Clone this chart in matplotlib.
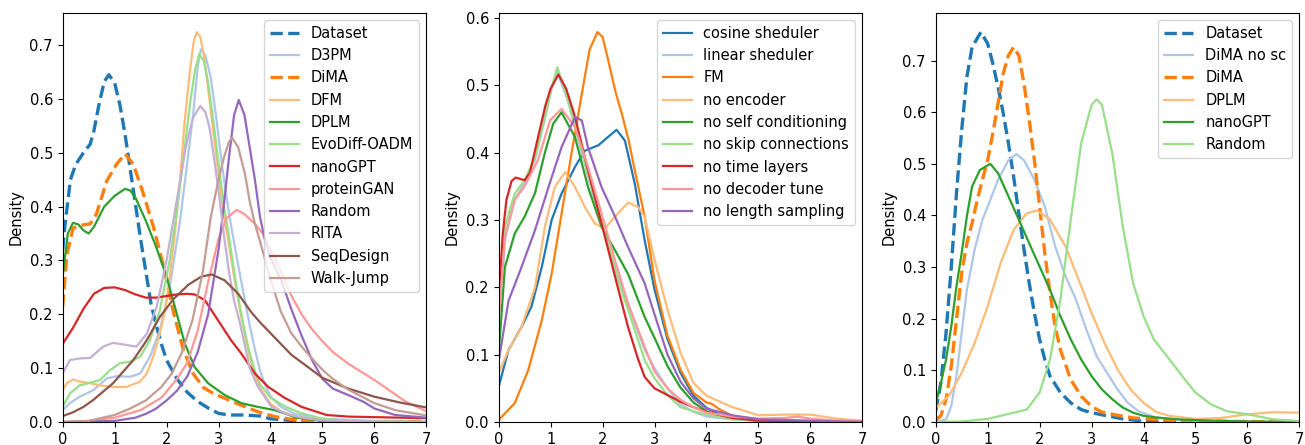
import numpy as np
import matplotlib
matplotlib.use("Agg")
import matplotlib.pyplot as plt

# =============================================================================
# Data (density curves)
# =============================================================================

# ---- panel 1: all models ----
p1_dataset_x = [0, 0.05, 0.15, 0.25, 0.4, 0.53, 0.6, 0.7, 0.8, 0.89, 1.0, 1.1, 1.2, 1.3, 1.4, 1.5, 1.6, 1.7, 1.8,
                1.9, 2.0, 2.2, 2.4, 2.6, 2.8, 3.0, 3.2, 3.5, 3.8, 4.0, 4.5, 5.0, 6.0, 7.0]
p1_dataset_y = [0.32, 0.37, 0.45, 0.478, 0.50, 0.516, 0.54, 0.59, 0.632, 0.645, 0.63, 0.59, 0.535, 0.47, 0.405,
                0.34, 0.28, 0.22, 0.18, 0.145, 0.115, 0.08, 0.055, 0.038, 0.026, 0.016, 0.013, 0.013, 0.011,
                0.006, 0.002, 0.001, 0.0, 0.0]

p1_d3pm_x = [0, 0.14, 0.33, 0.59, 0.85, 1.04, 1.3, 1.49, 1.68, 1.87, 2.06, 2.26, 2.38, 2.51, 2.6, 2.66, 2.75,
             2.85, 2.95, 3.05, 3.15, 3.25, 3.4, 3.5, 3.6, 3.7, 3.8, 3.9, 4.0, 4.2, 4.5, 5.0, 6.0, 7.0]
p1_d3pm_y = [0.022, 0.035, 0.047, 0.059, 0.081, 0.085, 0.084, 0.09, 0.121, 0.17, 0.25, 0.374, 0.467, 0.57, 0.66,
             0.692, 0.68, 0.64, 0.57, 0.49, 0.42, 0.36, 0.28, 0.23, 0.18, 0.135, 0.095, 0.068, 0.048, 0.028,
             0.014, 0.006, 0.002, 0.0]

p1_dima_x = [0, 0.08, 0.2, 0.33, 0.53, 0.65, 0.85, 1.04, 1.2, 1.36, 1.55, 1.74, 1.94, 2.13, 2.32, 2.51, 2.71,
             2.9, 3.12, 3.44, 3.76, 4.08, 4.4, 4.7, 5.0, 7.0]
p1_dima_y = [0.214, 0.31, 0.36, 0.365, 0.368, 0.386, 0.448, 0.479, 0.498, 0.479, 0.425, 0.365, 0.29, 0.205,
             0.135, 0.09, 0.064, 0.053, 0.044, 0.031, 0.019, 0.01, 0.005, 0.002, 0.001, 0.0]

p1_dfm_x = [0, 0.08, 0.2, 0.33, 0.53, 0.72, 0.97, 1.23, 1.49, 1.62, 1.74, 1.87, 1.97, 2.06, 2.16, 2.26, 2.35,
            2.45, 2.52, 2.58, 2.65, 2.72, 2.8, 2.9, 3.0, 3.1, 3.2, 3.3, 3.4, 3.5, 3.6, 3.7, 3.8, 4.0, 4.2, 4.5,
            5.0, 6.0, 7.0]
p1_dfm_y = [0.059, 0.072, 0.079, 0.075, 0.072, 0.068, 0.065, 0.065, 0.075, 0.09, 0.12, 0.164, 0.207, 0.27, 0.35,
            0.45, 0.56, 0.652, 0.705, 0.724, 0.715, 0.68, 0.62, 0.54, 0.46, 0.385, 0.33, 0.27, 0.215, 0.165,
            0.12, 0.088, 0.063, 0.034, 0.02, 0.01, 0.003, 0.001, 0.0]

p1_dplm_x = [0, 0.1, 0.2, 0.3, 0.4, 0.5, 0.6, 0.8, 1.0, 1.2, 1.3, 1.4, 1.6, 1.8, 2.0, 2.16, 2.35, 2.54, 2.8,
             3.12, 3.44, 3.76, 4.08, 4.27, 4.5, 5.0, 5.5, 7.0]
p1_dplm_y = [0.27, 0.35, 0.37, 0.367, 0.356, 0.35, 0.362, 0.40, 0.42, 0.433, 0.43, 0.417, 0.374, 0.325, 0.27,
             0.214, 0.146, 0.102, 0.072, 0.05, 0.035, 0.028, 0.022, 0.016, 0.008, 0.002, 0.0005, 0.0]

p1_evodiff_x = [0, 0.14, 0.33, 0.53, 0.72, 0.91, 1.1, 1.3, 1.49, 1.68, 1.87, 2.06, 2.19, 2.32, 2.45, 2.55, 2.63,
                2.72, 2.8, 2.9, 3.0, 3.1, 3.2, 3.3, 3.4, 3.5, 3.6, 3.7, 3.8, 4.0, 4.3, 4.6, 5.0, 5.5, 6.0, 7.0]
p1_evodiff_y = [0.028, 0.053, 0.068, 0.073, 0.078, 0.096, 0.109, 0.112, 0.121, 0.152, 0.207, 0.3, 0.386, 0.485,
                0.59, 0.655, 0.683, 0.67, 0.63, 0.56, 0.48, 0.405, 0.345, 0.28, 0.22, 0.17, 0.128, 0.095, 0.07,
                0.045, 0.028, 0.016, 0.006, 0.002, 0.001, 0.0]

p1_nanogpt_x = [0, 0.2, 0.4, 0.6, 0.8, 1.0, 1.2, 1.4, 1.6, 1.8, 2.0, 2.2, 2.4, 2.54, 2.74, 2.99, 3.24, 3.44,
                3.7, 3.96, 4.27, 4.6, 5.08, 5.5, 6.0, 7.0]
p1_nanogpt_y = [0.145, 0.175, 0.21, 0.238, 0.249, 0.25, 0.245, 0.237, 0.231, 0.231, 0.234, 0.237, 0.238, 0.237,
                0.226, 0.189, 0.152, 0.127, 0.09, 0.065, 0.045, 0.028, 0.013, 0.01, 0.009, 0.007]

p1_proteingan_x = [0, 0.5, 1.0, 1.5, 1.9, 2.2, 2.4, 2.6, 2.8, 3.0, 3.15, 3.35, 3.5, 3.7, 3.85, 4.0, 4.2, 4.4,
                   4.6, 4.8, 5.0, 5.2, 5.5, 5.8, 6.0, 6.3, 6.6, 7.0]
p1_proteingan_y = [0.0, 0.002, 0.008, 0.022, 0.045, 0.08, 0.11, 0.17, 0.26, 0.34, 0.378, 0.394, 0.386, 0.368,
                   0.35, 0.32, 0.28, 0.235, 0.2, 0.172, 0.15, 0.13, 0.108, 0.09, 0.078, 0.058, 0.038, 0.02]

p1_random_x = [0, 1.0, 1.4, 1.6, 1.8, 2.0, 2.2, 2.4, 2.6, 2.8, 3.0, 3.1, 3.2, 3.3, 3.39, 3.5, 3.6, 3.7, 3.8,
               3.9, 4.0, 4.2, 4.4, 4.6, 4.8, 5.0, 5.2, 5.5, 5.8, 6.0, 6.4, 7.0]
p1_random_y = [0.0, 0.002, 0.008, 0.015, 0.025, 0.04, 0.058, 0.085, 0.13, 0.2, 0.32, 0.40, 0.49, 0.57, 0.598,
               0.57, 0.51, 0.45, 0.38, 0.335, 0.305, 0.265, 0.21, 0.16, 0.115, 0.08, 0.062, 0.05, 0.037, 0.025,
               0.013, 0.008]

p1_rita_x = [0, 0.14, 0.33, 0.53, 0.78, 0.97, 1.23, 1.42, 1.62, 1.81, 2.0, 2.13, 2.26, 2.38, 2.51, 2.65, 2.75,
             2.83, 2.9, 3.0, 3.1, 3.2, 3.3, 3.41, 3.5, 3.6, 3.76, 4.02, 4.3, 4.6, 5.0, 6.0, 7.0]
p1_rita_y = [0.09, 0.115, 0.118, 0.119, 0.14, 0.147, 0.143, 0.14, 0.164, 0.214, 0.3, 0.374, 0.448, 0.516, 0.565,
             0.587, 0.575, 0.545, 0.5, 0.43, 0.35, 0.28, 0.225, 0.185, 0.145, 0.1, 0.065, 0.028, 0.015, 0.008,
             0.003, 0.001, 0.0]

p1_seqdesign_x = [0, 0.2, 0.4, 0.59, 0.97, 1.36, 1.62, 1.87, 2.13, 2.42, 2.67, 2.87, 3.12, 3.38, 3.63, 3.8, 4.0,
                  4.4, 5.0, 5.5, 6.0, 6.5, 7.0]
p1_seqdesign_y = [0.011, 0.018, 0.028, 0.041, 0.072, 0.115, 0.152, 0.195, 0.228, 0.255, 0.27, 0.274, 0.263,
                  0.238, 0.204, 0.185, 0.165, 0.125, 0.082, 0.062, 0.047, 0.036, 0.027]

p1_walkjump_x = [0, 0.5, 1.0, 1.3, 1.6, 1.9, 2.1, 2.3, 2.5, 2.7, 2.85, 3.0, 3.1, 3.2, 3.26, 3.38, 3.51, 3.6, 3.7,
                 3.8, 3.9, 4.0, 4.2, 4.4, 4.6, 4.8, 5.0, 5.2, 5.5, 5.8, 6.0, 6.4, 7.0]
p1_walkjump_y = [0.0, 0.002, 0.013, 0.025, 0.04, 0.065, 0.09, 0.13, 0.19, 0.28, 0.38, 0.45, 0.49, 0.52, 0.528,
                 0.51, 0.46, 0.41, 0.368, 0.335, 0.3, 0.265, 0.205, 0.165, 0.14, 0.118, 0.097, 0.08, 0.06, 0.045,
                 0.035, 0.022, 0.012]

# ---- panel 2: ablations ----
p2_cosine_x = [0, 0.19, 0.44, 0.63, 0.83, 1.02, 1.21, 1.47, 1.66, 1.92, 2.1, 2.27, 2.43, 2.62, 2.81, 3.0, 3.25,
               3.5, 3.75, 4.0, 4.25, 4.5, 5.0, 6.0, 7.0]
p2_cosine_y = [0.052, 0.107, 0.141, 0.171, 0.23, 0.3, 0.339, 0.379, 0.403, 0.411, 0.423, 0.434, 0.418, 0.354,
               0.27, 0.197, 0.123, 0.073, 0.039, 0.021, 0.011, 0.006, 0.002, 0.0, 0.0]

p2_linear_x = [0, 0.12, 0.31, 0.5, 0.7, 0.89, 1.02, 1.13, 1.34, 1.53, 1.79, 2.04, 2.3, 2.56, 2.81, 3.0, 3.25,
               3.5, 3.75, 4.0, 4.5, 5.0, 6.0, 7.0]
p2_linear_y = [0.12, 0.27, 0.33, 0.355, 0.39, 0.45, 0.495, 0.52, 0.475, 0.42, 0.345, 0.28, 0.215, 0.16, 0.107,
               0.08, 0.05, 0.026, 0.015, 0.008, 0.004, 0.002, 0.0, 0.0]

p2_fm_x = [0, 0.31, 0.57, 0.83, 1.02, 1.21, 1.4, 1.6, 1.75, 1.9, 2.0, 2.11, 2.25, 2.37, 2.5, 2.62, 2.81, 3.0,
           3.25, 3.5, 3.75, 4.0, 4.1, 4.25, 4.5, 5.0, 7.0]
p2_fm_y = [0.003, 0.028, 0.077, 0.151, 0.22, 0.309, 0.398, 0.487, 0.553, 0.579, 0.572, 0.537, 0.49, 0.458,
           0.419, 0.374, 0.305, 0.21, 0.128, 0.078, 0.043, 0.029, 0.027, 0.019, 0.009, 0.001, 0.0]

p2_noenc_x = [0, 0.19, 0.44, 0.7, 0.89, 1.08, 1.28, 1.47, 1.66, 1.85, 2.04, 2.24, 2.49, 2.69, 2.81, 3.0, 3.25,
              3.5, 3.75, 4.0, 4.5, 5.0, 5.5, 6.0, 6.5, 7.0]
p2_noenc_y = [0.072, 0.107, 0.141, 0.2, 0.29, 0.349, 0.371, 0.349, 0.319, 0.295, 0.287, 0.305, 0.326, 0.319,
              0.305, 0.241, 0.167, 0.103, 0.058, 0.039, 0.022, 0.01, 0.011, 0.011, 0.005, 0.002]

p2_nosc_x = [0, 0.12, 0.31, 0.5, 0.7, 0.89, 1.05, 1.21, 1.47, 1.72, 1.98, 2.24, 2.49, 2.81, 3.0, 3.25, 3.5,
             3.75, 4.0, 4.3, 5.0, 7.0]
p2_nosc_y = [0.1, 0.23, 0.28, 0.305, 0.34, 0.4, 0.443, 0.46, 0.423, 0.349, 0.29, 0.255, 0.22, 0.156, 0.125,
             0.083, 0.051, 0.029, 0.016, 0.008, 0.002, 0.0]

p2_noskip_x = [0, 0.12, 0.31, 0.5, 0.7, 0.89, 1.02, 1.13, 1.34, 1.53, 1.79, 2.04, 2.3, 2.56, 2.81, 3.0, 3.25,
               3.5, 3.75, 4.0, 4.5, 5.0, 7.0]
p2_noskip_y = [0.14, 0.29, 0.339, 0.359, 0.393, 0.453, 0.497, 0.527, 0.477, 0.423, 0.349, 0.28, 0.21, 0.151,
               0.092, 0.065, 0.04, 0.022, 0.016, 0.011, 0.004, 0.002, 0.0]

p2_notime_x = [0, 0.08, 0.15, 0.25, 0.33, 0.5, 0.6, 0.75, 0.9, 1.0, 1.15, 1.3, 1.47, 1.72, 1.98, 2.24, 2.49,
               2.69, 2.81, 3.0, 3.25, 3.5, 3.75, 4.0, 4.5, 5.0, 7.0]
p2_notime_y = [0.18, 0.28, 0.33, 0.358, 0.363, 0.359, 0.37, 0.42, 0.47, 0.495, 0.516, 0.495, 0.453, 0.374, 0.295,
               0.216, 0.141, 0.092, 0.067, 0.05, 0.04, 0.03, 0.022, 0.015, 0.006, 0.002, 0.0]

p2_nodec_x = [0, 0.12, 0.31, 0.5, 0.76, 0.99, 1.21, 1.47, 1.72, 1.98, 2.24, 2.49, 2.81, 3.0, 3.25, 3.5, 3.75,
              4.0, 4.5, 5.0, 5.5, 5.75, 6.0, 6.5, 7.0]
p2_nodec_y = [0.15, 0.275, 0.33, 0.35, 0.39, 0.448, 0.465, 0.438, 0.379, 0.31, 0.24, 0.176, 0.112, 0.075, 0.05,
              0.033, 0.022, 0.014, 0.008, 0.005, 0.006, 0.008, 0.005, 0.002, 0.001]

p2_nolen_x = [0, 0.19, 0.44, 0.7, 0.96, 1.21, 1.47, 1.6, 1.72, 1.98, 2.24, 2.49, 2.81, 3.0, 3.25, 3.5, 3.75,
              4.0, 4.5, 5.0, 7.0]
p2_nolen_y = [0.09, 0.18, 0.23, 0.285, 0.349, 0.408, 0.453, 0.448, 0.408, 0.349, 0.305, 0.26, 0.206, 0.16, 0.1,
              0.06, 0.035, 0.02, 0.01, 0.004, 0.0]

# ---- panel 3: best models ----
p3_dataset_x = [0, 0.1, 0.2, 0.3, 0.4, 0.5, 0.6, 0.7, 0.87, 1.0, 1.1, 1.2, 1.3, 1.4, 1.5, 1.6, 1.7, 1.8, 1.9,
                2.0, 2.1, 2.2, 2.4, 2.6, 2.8, 3.0, 3.3, 3.6, 4.0, 4.5, 7.0]
p3_dataset_y = [0.021, 0.076, 0.173, 0.3, 0.443, 0.565, 0.668, 0.726, 0.755, 0.733, 0.694, 0.649, 0.598, 0.54,
                0.475, 0.404, 0.334, 0.269, 0.211, 0.16, 0.121, 0.089, 0.057, 0.037, 0.024, 0.018, 0.012, 0.006,
                0.002, 0.0, 0.0]

p3_dimanosc_x = [0, 0.2, 0.3, 0.4, 0.5, 0.6, 0.75, 0.9, 1.0, 1.2, 1.4, 1.55, 1.7, 1.9, 2.1, 2.3, 2.5, 2.7, 2.9,
                 3.1, 3.3, 3.5, 3.7, 3.9, 4.2, 4.6, 5.0, 7.0]
p3_dimanosc_y = [0.0, 0.005, 0.031, 0.089, 0.173, 0.256, 0.334, 0.392, 0.417, 0.469, 0.507, 0.519, 0.507, 0.469,
                 0.417, 0.34, 0.282, 0.237, 0.179, 0.127, 0.095, 0.063, 0.037, 0.021, 0.01, 0.005, 0.002, 0.0]

p3_dima_x = [0, 0.1, 0.2, 0.3, 0.4, 0.5, 0.6, 0.7, 0.8, 0.9, 1.0, 1.1, 1.2, 1.3, 1.4, 1.5, 1.6, 1.7, 1.8, 1.9,
             2.0, 2.1, 2.2, 2.3, 2.4, 2.6, 2.8, 3.0, 3.2, 3.5, 3.8, 4.2, 4.8, 7.0]
p3_dima_y = [0.004, 0.012, 0.044, 0.108, 0.198, 0.288, 0.346, 0.385, 0.43, 0.469, 0.507, 0.559, 0.617, 0.675,
             0.71, 0.726, 0.71, 0.655, 0.585, 0.507, 0.417, 0.327, 0.25, 0.185, 0.14, 0.082, 0.05, 0.03, 0.019,
             0.013, 0.008, 0.005, 0.002, 0.0]

p3_dplm_x = [0, 0.25, 0.5, 0.75, 1.0, 1.25, 1.5, 1.75, 1.95, 2.2, 2.5, 2.75, 3.0, 3.25, 3.5, 3.75, 4.0, 4.25,
             4.5, 5.0, 5.5, 6.0, 6.5, 7.0]
p3_dplm_y = [0.028, 0.05, 0.095, 0.153, 0.224, 0.308, 0.372, 0.404, 0.41, 0.392, 0.34, 0.276, 0.211, 0.153,
             0.102, 0.063, 0.037, 0.019, 0.012, 0.006, 0.008, 0.015, 0.019, 0.018]

p3_nanogpt_x = [0, 0.1, 0.2, 0.3, 0.4, 0.5, 0.6, 0.7, 0.85, 1.05, 1.2, 1.4, 1.6, 1.8, 2.0, 2.2, 2.4, 2.6, 2.8,
                3.0, 3.2, 3.4, 3.6, 3.8, 4.0, 4.3, 4.7, 5.2, 6.0, 7.0]
p3_nanogpt_y = [0.034, 0.076, 0.121, 0.185, 0.263, 0.327, 0.398, 0.456, 0.488, 0.5, 0.482, 0.437, 0.392, 0.346,
                0.301, 0.256, 0.205, 0.16, 0.121, 0.089, 0.063, 0.044, 0.028, 0.018, 0.012, 0.008, 0.005, 0.003,
                0.001, 0.0]

p3_random_x = [0, 0.5, 1.0, 1.25, 1.5, 1.75, 2.0, 2.2, 2.4, 2.6, 2.8, 3.0, 3.1, 3.2, 3.4, 3.6, 3.8, 4.0, 4.2,
               4.5, 4.8, 5.0, 5.3, 5.6, 6.0, 6.5, 7.0]
p3_random_y = [0.0, 0.001, 0.006, 0.012, 0.018, 0.024, 0.057, 0.121, 0.237, 0.392, 0.54, 0.614, 0.625, 0.614,
               0.52, 0.379, 0.269, 0.205, 0.16, 0.121, 0.082, 0.057, 0.034, 0.021, 0.015, 0.005, 0.002]

# =============================================================================
# Plot
# =============================================================================
plt.rcParams['font.size'] = 10.5

c = plt.get_cmap('tab20').colors

panel1 = [
    ("Dataset", p1_dataset_x, p1_dataset_y, c[0], True),
    ("D3PM", p1_d3pm_x, p1_d3pm_y, c[1], False),
    ("DiMA", p1_dima_x, p1_dima_y, c[2], True),
    ("DFM", p1_dfm_x, p1_dfm_y, c[3], False),
    ("DPLM", p1_dplm_x, p1_dplm_y, c[4], False),
    ("EvoDiff-OADM", p1_evodiff_x, p1_evodiff_y, c[5], False),
    ("nanoGPT", p1_nanogpt_x, p1_nanogpt_y, c[6], False),
    ("proteinGAN", p1_proteingan_x, p1_proteingan_y, c[7], False),
    ("Random", p1_random_x, p1_random_y, c[8], False),
    ("RITA", p1_rita_x, p1_rita_y, c[9], False),
    ("SeqDesign", p1_seqdesign_x, p1_seqdesign_y, c[10], False),
    ("Walk-Jump", p1_walkjump_x, p1_walkjump_y, c[11], False),
]
panel2 = [
    ("cosine sheduler", p2_cosine_x, p2_cosine_y, c[0], False),
    ("linear sheduler", p2_linear_x, p2_linear_y, c[1], False),
    ("FM", p2_fm_x, p2_fm_y, c[2], False),
    ("no encoder", p2_noenc_x, p2_noenc_y, c[3], False),
    ("no self conditioning", p2_nosc_x, p2_nosc_y, c[4], False),
    ("no skip connections", p2_noskip_x, p2_noskip_y, c[5], False),
    ("no time layers", p2_notime_x, p2_notime_y, c[6], False),
    ("no decoder tune", p2_nodec_x, p2_nodec_y, c[7], False),
    ("no length sampling", p2_nolen_x, p2_nolen_y, c[8], False),
]
panel3 = [
    ("Dataset", p3_dataset_x, p3_dataset_y, c[0], True),
    ("DiMA no sc", p3_dimanosc_x, p3_dimanosc_y, c[1], False),
    ("DiMA", p3_dima_x, p3_dima_y, c[2], True),
    ("DPLM", p3_dplm_x, p3_dplm_y, c[3], False),
    ("nanoGPT", p3_nanogpt_x, p3_nanogpt_y, c[4], False),
    ("Random", p3_random_x, p3_random_y, c[5], False),
]

fig = plt.figure(figsize=(13.05, 4.45), dpi=100)
lefts = [0.048, 0.3821, 0.717]

for left, curves in zip(lefts, [panel1, panel2, panel3]):
    ax = fig.add_axes([left, 0.0517, 0.2787, 0.9198])
    top = 0
    for label, xs, ys, col, dashed in curves:
        if dashed:
            ax.plot(xs, ys, color=col, lw=2.4, ls='--', label=label)
        else:
            ax.plot(xs, ys, color=col, lw=1.6, label=label)
        top = max(top, max(ys))
    ax.set_xlim(0, 7)
    ax.set_ylim(0, top * 1.05)
    ax.set_ylabel("Density")
    ax.legend(loc='upper right')

fig.savefig("out.png", dpi=100)
